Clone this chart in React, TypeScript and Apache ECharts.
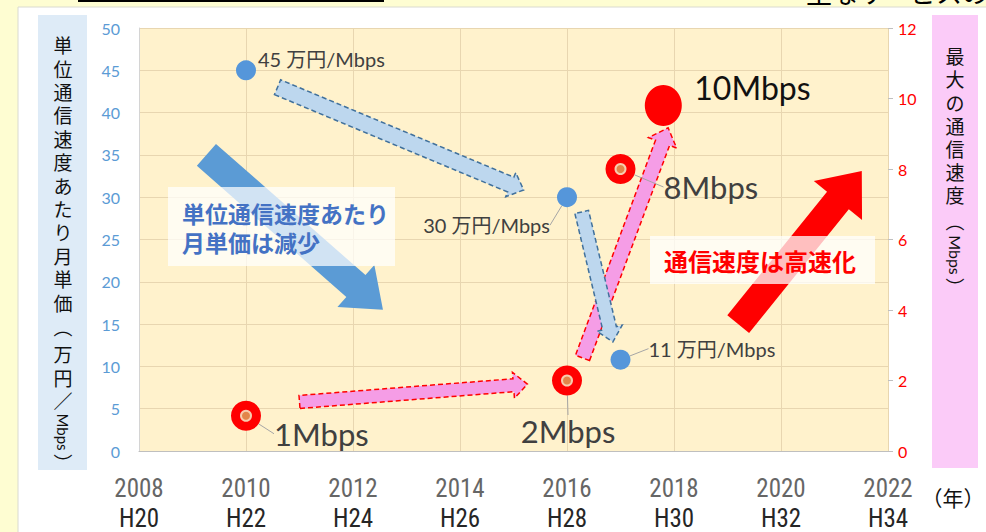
import React, { useEffect, useRef } from "react";
import * as echarts from "echarts";

// ---- tick labels ----
const yearTicks = [2008, 2010, 2012, 2014, 2016, 2018, 2020, 2022];
const eraTicks = ["H20", "H22", "H24", "H26", "H28", "H30", "H32", "H34"];

// ---- price per Mbps (left axis, 万円/Mbps) ----
const priceYears = [2010, 2016, 2017];
const priceValues = [45, 30, 10.8];
const priceLabels = ["45 万円/Mbps", "30 万円/Mbps", "11 万円/Mbps"];

// ---- max speed (right axis, Mbps) ----
const speedYears = [2010, 2016, 2017, 2017.8];
const speedValues = [1, 2, 8, 9.8];
const speedLabels = ["1Mbps", "2Mbps", "8Mbps", "10Mbps"];

// ---- annotation arrows (start / end in year, left-axis units) ----
const arrowStartX = [2011.0, 2016.29, 2009.26, 2010.59, 2016.275, 2019.2];
const arrowStartY = [5.8, 11.0, 35.0, 43.0, 28.25, 15.0];
const arrowEndX = [2015.26, 2017.89, 2012.56, 2015.19, 2016.857, 2021.51];
const arrowEndY = [7.9, 38.2, 16.7, 30.85, 12.9, 33.1];

const LATIN = "Lato, 'Noto Sans CJK JP', sans-serif";
const CJK = "'Noto Sans CJK JP', sans-serif";
const NARROW = "'Liberation Sans Narrow', 'Roboto Condensed', 'Liberation Sans', sans-serif";

const arrowStyles = [
  { body: 13, head: 14, headW: 26, fill: "#F59DE6", stroke: "#FF0000", lw: 1.5, dash: [5, 3] },
  { body: 15, head: 16, headW: 30, fill: "#F59DE6", stroke: "#FF0000", lw: 1.5, dash: [5, 3] },
  { body: 29, head: 36, headW: 56, fill: "#5B9BD5", stroke: null, lw: 0, dash: null },
  { body: 16, head: 14, headW: 26, fill: "#BDD7EE", stroke: "#41719C", lw: 1.5, dash: [5, 3] },
  { body: 14, head: 14, headW: 26, fill: "#BDD7EE", stroke: "#41719C", lw: 1.5, dash: [5, 3] },
  { body: 28, head: 38, headW: 62, fill: "#FF0000", stroke: null, lw: 0, dash: null },
];

const priceLabelCfg = [
  { align: "left", dx: 12, dy: -11, line: false },
  { align: "right", dx: -17, dy: 28, line: true },
  { align: "left", dx: 28, dy: -11, line: true },
];
const speedLabelCfg = [
  { align: "left", dx: 28, dy: 18, size: 31, color: "#404040", line: true },
  { align: "center", dx: 1, dy: 50, size: 31, color: "#404040", line: true },
  { align: "left", dx: 43, dy: 18, size: 31, color: "#404040", line: true },
  { align: "left", dx: 31, dy: -18, size: 32, color: "#111111", line: false },
];

function vtext(chars: string, x: number, y: number, lh: number, size: number) {
  return {
    type: "text",
    z: 5,
    style: {
      text: chars.split("").join("\n"),
      x,
      y,
      fill: "#111",
      fontSize: size,
      fontFamily: CJK,
      lineHeight: lh,
      align: "center",
      textAlign: "center",
      verticalAlign: "top",
      textVerticalAlign: "top",
    },
  };
}
function rtext(t: string, x: number, y: number, size: number) {
  return {
    type: "text",
    x,
    y,
    rotation: -Math.PI / 2,
    z: 5,
    style: {
      text: t,
      x: 0,
      y: 0,
      fill: "#111",
      fontSize: size,
      fontFamily: LATIN,
      align: "center",
      textAlign: "center",
      verticalAlign: "middle",
      textVerticalAlign: "middle",
    },
  };
}

export default function App() {
  const ref = useRef<HTMLDivElement>(null);
  useEffect(() => {
    if (!ref.current) return;
    const chart = echarts.init(ref.current, undefined, { renderer: "svg" });
    const option: any = {
      animation: false,
      backgroundColor: "#FEFDD2",
      grid: {
        left: 139,
        right: 98,
        top: 28,
        bottom: 81,
        show: true,
        backgroundColor: "#FFF2CC",
        borderWidth: 0,
      },
      xAxis: {
        type: "value",
        min: 2008,
        max: 2022,
        interval: 2,
        axisLine: { show: true, lineStyle: { color: "#BFBFBF", width: 1 } },
        axisTick: { show: false },
        splitLine: { show: true, lineStyle: { color: "#E8D6B0", width: 1 } },
        axisLabel: {
          margin: 22,
          formatter: (v: number) => {
            const i = yearTicks.indexOf(v);
            return `{a|${v}}\n{b|${eraTicks[i] ?? ""}}`;
          },
          rich: {
            a: { fontSize: 25, fontFamily: NARROW, color: "#666666", lineHeight: 30 },
            b: { fontSize: 25, fontFamily: NARROW, color: "#262626", lineHeight: 30 },
          },
        },
      },
      yAxis: [
        {
          type: "value",
          min: 0,
          max: 50,
          interval: 5,
          axisLine: { show: true, lineStyle: { color: "#D4D4D4" } },
          axisTick: { show: false },
          splitLine: { show: true, lineStyle: { color: "#E8D6B0", width: 1 } },
          axisLabel: { margin: 19, fontSize: 16, fontFamily: LATIN, color: "#5B9BD5" },
        },
        {
          type: "value",
          min: 0,
          max: 12,
          interval: 2,
          position: "right",
          axisLine: { show: false },
          axisTick: { show: true, length: 5, lineStyle: { color: "#BFBFBF" } },
          splitLine: { show: false },
          axisLabel: { margin: 10, fontSize: 16, fontFamily: LATIN, color: "#FF0000" },
        },
      ],
      series: [
        {
          type: "custom",
          name: "arrows",
          coordinateSystem: "cartesian2d",
          yAxisIndex: 0,
          silent: true,
          encode: { x: [0, 2], y: [1, 3] },
          data: arrowStartX.map((x, i) => [x, arrowStartY[i], arrowEndX[i], arrowEndY[i]]),
          renderItem: (params: any, api: any) => {
            const i = params.dataIndex;
            const st = arrowStyles[i];
            const a = api.coord([api.value(0), api.value(1)]);
            const b = api.coord([api.value(2), api.value(3)]);
            const dx = b[0] - a[0];
            const dy = b[1] - a[1];
            const len = Math.hypot(dx, dy);
            const ux = dx / len;
            const uy = dy / len;
            const nx = -uy;
            const ny = ux;
            const bx = b[0] - ux * st.head;
            const by = b[1] - uy * st.head;
            const w = st.body / 2;
            const h = st.headW / 2;
            const pts = [
              [a[0] + nx * w, a[1] + ny * w],
              [bx + nx * w, by + ny * w],
              [bx + nx * h, by + ny * h],
              [b[0], b[1]],
              [bx - nx * h, by - ny * h],
              [bx - nx * w, by - ny * w],
              [a[0] - nx * w, a[1] - ny * w],
            ];
            return {
              type: "polygon",
              shape: { points: pts },
              style: {
                fill: st.fill,
                stroke: st.stroke || "none",
                lineWidth: st.lw,
                lineDash: st.dash || undefined,
              },
            };
          },
        },
        {
          type: "scatter",
          name: "price",
          yAxisIndex: 0,
          symbolSize: 20,
          itemStyle: { color: "#5596DA", opacity: 1 },
          data: priceYears.map((x, i) => ({
            value: [x, priceValues[i]],
            label: { align: priceLabelCfg[i].align },
            labelLine: { show: priceLabelCfg[i].line },
          })),
          label: {
            show: true,
            position: "inside",
            verticalAlign: "middle",
            formatter: (p: any) => priceLabels[p.dataIndex],
            fontSize: 20,
            fontFamily: LATIN,
            color: "#404040",
            textBorderWidth: 0,
          },
          labelLayout: (p: any) => ({ dx: priceLabelCfg[p.dataIndex].dx, dy: priceLabelCfg[p.dataIndex].dy }),
          labelLine: { show: true, lineStyle: { color: "#A6A6A6", width: 1 } },
        },
        {
          type: "scatter",
          name: "speed",
          yAxisIndex: 1,
          itemStyle: { color: "#FF0000", opacity: 1 },
          data: speedYears.map((x, i) => ({
            value: [x, speedValues[i]],
            symbolSize: i === 3 ? [37, 41] : 30,
            label: {
              align: speedLabelCfg[i].align,
              fontSize: speedLabelCfg[i].size,
              color: speedLabelCfg[i].color,
            },
            labelLine: { show: speedLabelCfg[i].line },
          })),
          label: {
            show: true,
            position: "inside",
            verticalAlign: "middle",
            formatter: (p: any) => speedLabels[p.dataIndex],
            fontFamily: LATIN,
            textBorderWidth: 0,
          },
          labelLayout: (p: any) => ({ dx: speedLabelCfg[p.dataIndex].dx, dy: speedLabelCfg[p.dataIndex].dy }),
          labelLine: { show: true, lineStyle: { color: "#A6A6A6", width: 1 } },
        },
        {
          type: "scatter",
          name: "speed-core",
          yAxisIndex: 1,
          silent: true,
          symbolSize: 10,
          itemStyle: { color: "#E2854A", borderColor: "#F8CBAD", borderWidth: 2, opacity: 1 },
          data: speedYears.slice(0, 3).map((x, i) => [x, speedValues[i]]),
        },
      ],
      graphic: [
        {
          type: "rect",
          z: -10,
          shape: { x: 18, y: 7, width: 975, height: 530 },
          style: { fill: "#FFFFFF", stroke: "#DADAD0", lineWidth: 1 },
        },
        {
          type: "line",
          shape: { x1: 78, y1: 1, x2: 384, y2: 1 },
          style: { stroke: "#000", lineWidth: 2 },
        },
        {
          type: "text",
          style: {
            text: "主なサービスの料金及び最大通信速度の推移",
            x: 806,
            y: -22,
            fill: "#000",
            fontSize: 26,
            fontFamily: CJK,
            align: "left",
            textAlign: "left",
            verticalAlign: "top",
            textVerticalAlign: "top",
          },
        },
        {
          type: "rect",
          z: 1,
          shape: { x: 38, y: 15, width: 49, height: 455 },
          style: { fill: "#DEEBF7" },
        },
        {
          type: "rect",
          z: 1,
          shape: { x: 932, y: 15, width: 46, height: 453 },
          style: { fill: "#FBCBF8" },
        },
        vtext("単位通信速度あたり月単価", 63, 33, 23.4, 19),
        vtext("︵", 63, 315, 23.4, 19),
        vtext("万円／", 63, 342, 23.5, 19),
        rtext("Mbps", 63, 432, 15),
        vtext("︶", 63, 451, 23.4, 19),
        vtext("最大の通信速度", 955, 44, 23.2, 19),
        vtext("︵", 955, 209, 23.2, 19),
        rtext("Mbps", 955, 255, 16),
        vtext("︶", 955, 275, 23.2, 19),
        {
          type: "rect",
          z: 10,
          shape: { x: 168, y: 187, width: 227, height: 79 },
          style: { fill: "rgba(255,255,255,0.72)" },
        },
        {
          type: "text",
          z: 11,
          style: {
            text: "単位通信速度あたり\n月単価は減少",
            x: 182,
            y: 227,
            fill: "#4472C4",
            fontSize: 23,
            fontWeight: "bold",
            fontFamily: CJK,
            lineHeight: 29,
            align: "left",
            textAlign: "left",
            verticalAlign: "middle",
            textVerticalAlign: "middle",
          },
        },
        {
          type: "rect",
          z: 10,
          shape: { x: 650, y: 236, width: 225, height: 48 },
          style: { fill: "rgba(255,255,255,0.75)" },
        },
        {
          type: "text",
          z: 11,
          style: {
            text: "通信速度は高速化",
            x: 664,
            y: 260,
            fill: "#FF0000",
            fontSize: 24,
            fontWeight: "bold",
            fontFamily: CJK,
            align: "left",
            textAlign: "left",
            verticalAlign: "middle",
            textVerticalAlign: "middle",
          },
        },
        {
          type: "text",
          z: 5,
          style: {
            text: "（年）",
            x: 953,
            y: 497,
            fill: "#111",
            fontSize: 21,
            fontFamily: CJK,
            align: "center",
            textAlign: "center",
            verticalAlign: "middle",
            textVerticalAlign: "middle",
          },
        },
      ],
    };
    chart.setOption(option);
    return () => chart.dispose();
  }, []);
  return (
    <div
      ref={ref}
      style={{ position: "fixed", left: 0, top: 0, width: 986, height: 532 }}
    />
  );
}
